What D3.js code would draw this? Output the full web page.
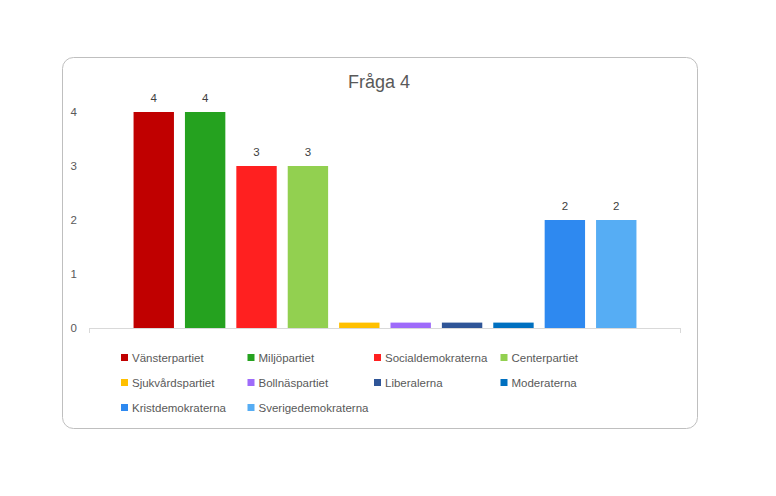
<!DOCTYPE html>
<html>
<head>
<meta charset="utf-8">
<script src="https://d3js.org/d3.v7.min.js"></script>
<style>
  body { margin: 0; background: #fff; }
  svg { display: block; font-family: "Liberation Sans", "DejaVu Sans", sans-serif; }
</style>
</head>
<body>
<svg width="776" height="496"></svg>
<script>
const parties = ["Vänsterpartiet", "Miljöpartiet", "Socialdemokraterna", "Centerpartiet",
    "Sjukvårdspartiet", "Bollnäspartiet", "Liberalerna", "Moderaterna",
    "Kristdemokraterna", "Sverigedemokraterna"];
const votes = [4, 4, 3, 3, 0.1, 0.1, 0.1, 0.1, 2, 2];
const shownLabels = ["4", "4", "3", "3", "", "", "", "", "2", "2"];
const colors = ["#C00000", "#25A21F", "#FF2020", "#92D050", "#FFC000",
    "#9E6BFA", "#2F5597", "#0070C0", "#2E89F0", "#56ADF4"];
const yTicks = [0, 1, 2, 3, 4];

const svg = d3.select("svg");

// chart frame
svg.append("rect")
    .attr("x", 62.5).attr("y", 57.5)
    .attr("width", 635).attr("height", 371)
    .attr("rx", 11).attr("ry", 11)
    .attr("fill", "#fff")
    .attr("stroke", "#bfbfbf");

svg.append("text")
    .attr("x", 379).attr("y", 88)
    .attr("text-anchor", "middle")
    .attr("font-size", 18)
    .attr("fill", "#595959")
    .text("Fråga 4");

const x = d3.scaleBand()
    .domain(parties)
    .range([89, 681])
    .paddingInner(0.214)
    .paddingOuter(0.867);

const y = d3.scaleLinear().domain([0, 4]).range([328, 112]);

// y labels (no axis line)
svg.append("g").selectAll("text")
    .data(yTicks)
    .join("text")
    .attr("x", 77)
    .attr("y", d => y(d) + 4)
    .attr("text-anchor", "end")
    .attr("font-size", 11.5)
    .attr("fill", "#595959")
    .text(d => d);

svg.append("g").selectAll("rect")
    .data(votes)
    .join("rect")
    .attr("x", (d, i) => x(parties[i]))
    .attr("y", d => y(d))
    .attr("width", x.bandwidth())
    .attr("height", d => y(0) - y(d))
    .attr("fill", (d, i) => colors[i]);

svg.append("g").selectAll("text")
    .data(votes)
    .join("text")
    .attr("x", (d, i) => x(parties[i]) + x.bandwidth() / 2)
    .attr("y", d => y(d) - 10)
    .attr("text-anchor", "middle")
    .attr("font-size", 11.5)
    .attr("fill", "#404040")
    .text((d, i) => shownLabels[i]);

// category axis
const axis = svg.append("g").attr("stroke", "#d9d9d9").attr("fill", "none");
axis.append("path").attr("d", "M89,328.5H681");
axis.append("path").attr("d", "M89.5,328V333M680.5,328V333");

// legend
const legend = svg.append("g");
parties.forEach((p, i) => {
    const col = i % 4, row = Math.floor(i / 4);
    const lx = 121 + col * 126.5;
    const ly = 358 + row * 25;
    legend.append("rect")
        .attr("x", lx).attr("y", ly - 4)
        .attr("width", 7).attr("height", 7)
        .attr("fill", colors[i]);
    legend.append("text")
        .attr("x", lx + 11).attr("y", ly + 4)
        .attr("font-size", 11.5)
        .attr("fill", "#595959")
        .text(p);
});
</script>
</body>
</html>
